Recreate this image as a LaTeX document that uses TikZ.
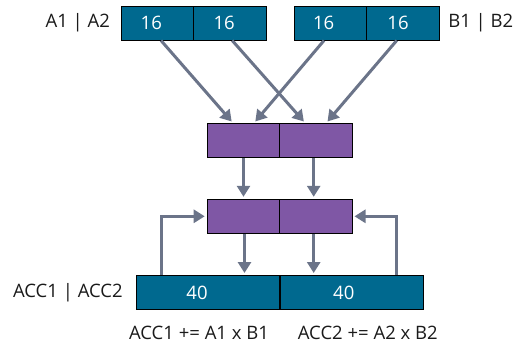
\documentclass[tikz,border=0pt]{standalone}
\usepackage{fontspec}
\setmainfont{Open Sans}
\usepackage{xcolor}
\usepackage{tikz}
\usetikzlibrary{calc,arrows.meta}
\definecolor{teal}{HTML}{00698F}
\definecolor{plum}{HTML}{7F57A5}
\definecolor{flow}{HTML}{6B7489}
\definecolor{ink}{HTML}{1A1A1A}
\tikzset{
  reg/.style={draw=black, line width=1pt, fill=teal, minimum width=72.6pt, minimum height=34pt, inner sep=0pt},
  acc/.style={reg, minimum width=142.6pt},
  mul/.style={reg, fill=plum},
  val/.style={text=white, font=\fontsize{18.5}{22}\selectfont},
  lab/.style={text=ink, font=\fontsize{18.5}{22}\selectfont},
  arr/.style={draw=flow, line width=3pt, shorten >=2pt, -{Triangle[length=11pt,width=13pt]}}
}
\begin{document}
\begin{tikzpicture}[x=1pt,y=-1pt]
  \useasboundingbox (0,0) rectangle (514,343);
  % input registers
  \node[reg] (a1) at (157.3,23) {};
  \node[reg] (a2) at (230.2,23) {};
  \node[reg] (b1) at (330.6,23) {};
  \node[reg] (b2) at (403.0,23) {};
  \node[val] at ($(a1)+(-6,0)$) {16};
  \node[val] at ($(a2)+(-6,0)$) {16};
  \node[val] at ($(b1)+(-7,0)$) {16};
  \node[val] at ($(b2)+(-5,0)$) {16};
  \node[lab,anchor=east] (la) at ($(a1.west)+(-7,0)$) {A1 | A2};
  \node[lab,anchor=west] (lb) at ($(b2.east)+(5,0)$) {B1 | B2};
  % multiply and add stages
  \node[mul] (m1) at (243.5,140.5) {};
  \node[mul] (m2) at (315.7,140.5) {};
  \node[mul] (n1) at (243.5,216.3) {};
  \node[mul] (n2) at (315.7,216.3) {};
  % accumulators
  \node[acc] (c1) at (208.0,292.5) {};
  \node[acc] (c2) at (351.8,292.5) {};
  \node[val] at ($(c1)+(-11,0)$) {40};
  \node[val] at ($(c2)+(-8,0)$) {40};
  \node[lab,anchor=east] (lc) at ($(c1.west)+(-10,0)$) {ACC1 | ACC2};
  \node[lab] (f1) at ($(c1.south)+(-9,22.5)$) {ACC1 += A1 x B1};
  \node[lab] (f2) at ($(c2.south)+(16,22.5)$) {ACC2 += A2 x B2};
  % connector ends
  \coordinate (s1) at ($(n1.south)+(1,0)$);
  \coordinate (s2) at ($(n2.south)+(-2,0)$);
  \coordinate (t1) at (s1 |- c1.north);
  \coordinate (t2) at (s2 |- c2.north);
  % operands in
  \draw[arr] ($(a1.south)+(3.7,0)$) -- ($(m1.north)+(-10.5,0)$);
  \draw[arr] ($(a2.south)+(2,0)$) -- ($(m2.north)+(-10.5,0)$);
  \draw[arr] ($(b1.south)+(-6.6,0)$) -- ($(m1.north)+(10.5,0)$);
  \draw[arr] ($(b2.south)+(-6.3,0)$) -- ($(m2.north)+(10.5,0)$);
  \draw[arr] (m1.south) -- (n1.north);
  \draw[arr] ($(m2.south)+(-2,0)$) -- ($(n2.north)+(-2,0)$);
  \draw[arr] (s1) -- (t1);
  \draw[arr] (s2) -- (t2);
  % feedback
  \draw[arr] ($(c1.north west)+(25.6,0)$) |- (n1.west);
  \draw[arr] ($(c2.north east)+(-27.6,0)$) |- (n2.east);
\end{tikzpicture}
\end{document}
